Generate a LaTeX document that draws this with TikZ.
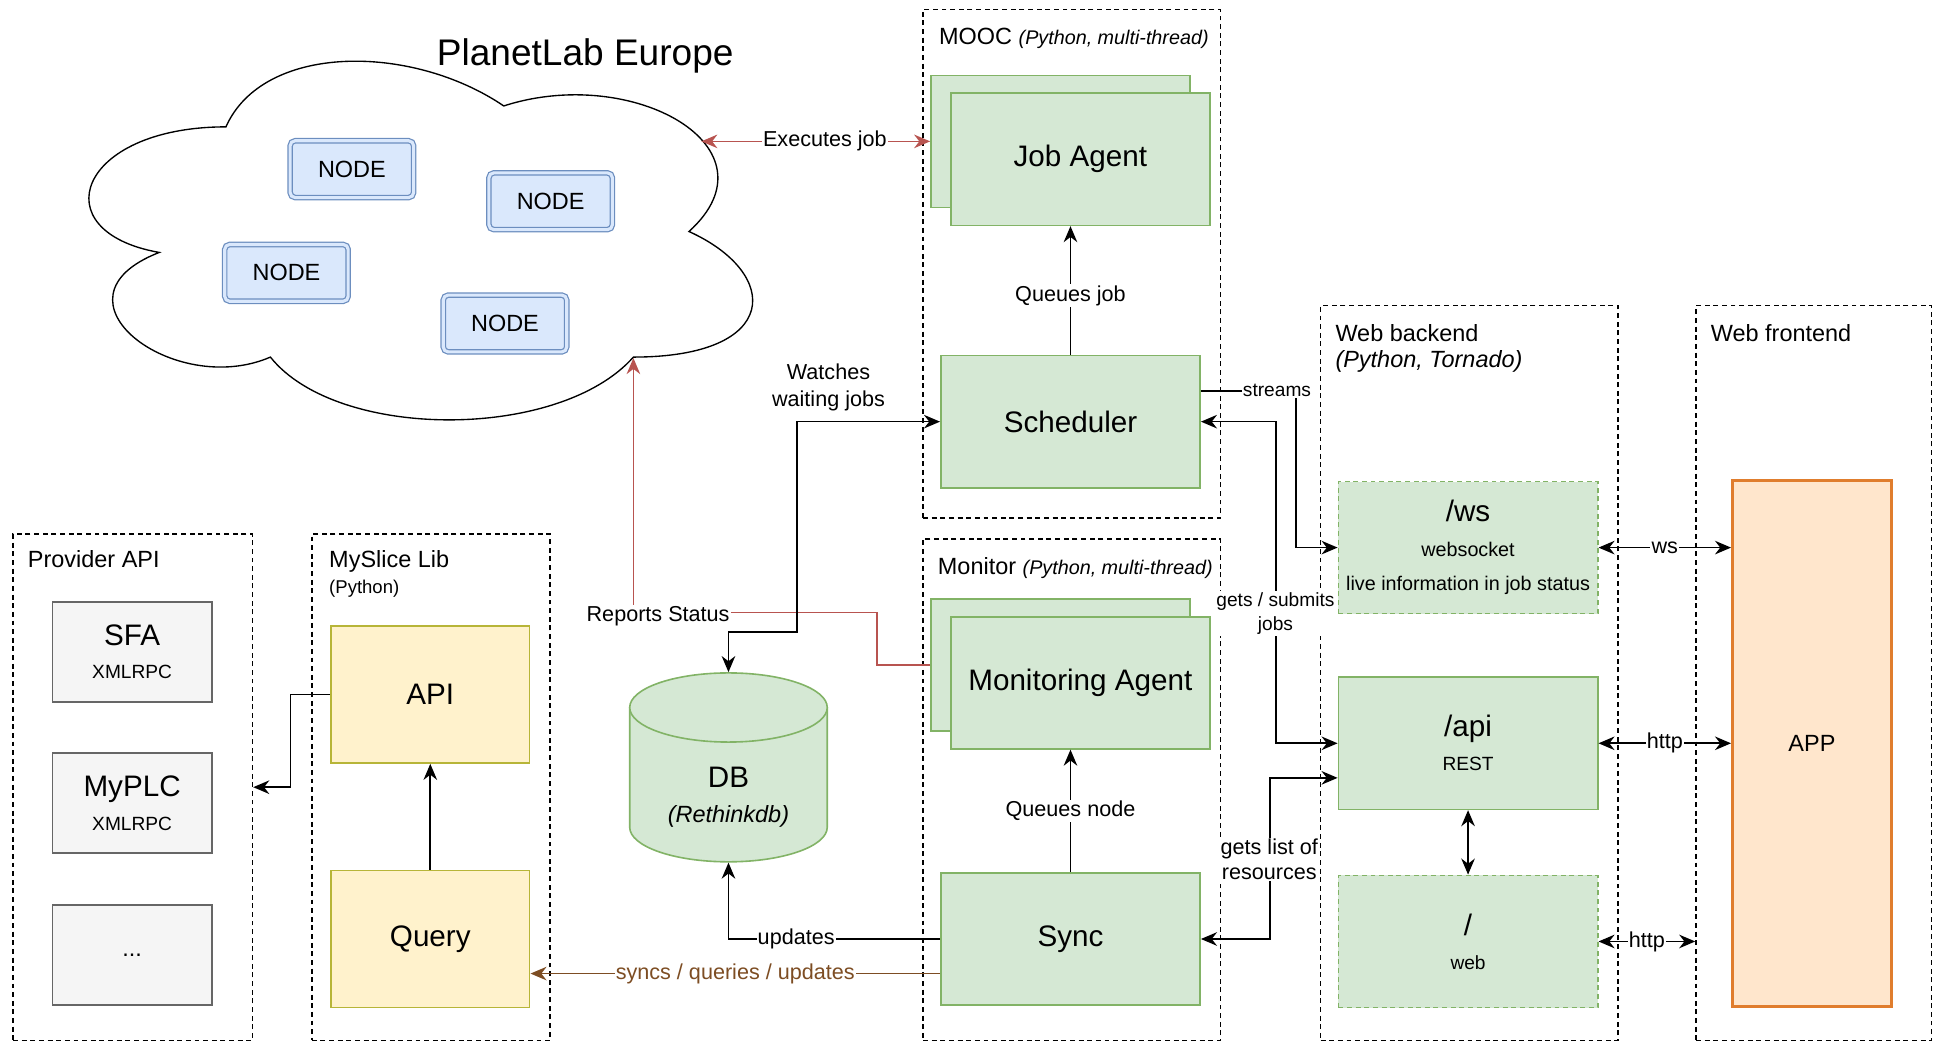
\documentclass[tikz,border=0pt]{standalone}
\usepackage{fontspec}
\setmainfont{Liberation Sans}
\usepackage{xcolor}
\usepackage{tikz}
\usetikzlibrary{arrows.meta}
\definecolor{box_green}{RGB}{213,232,212}
\definecolor{line_green}{RGB}{130,179,102}
\definecolor{box_yellow}{RGB}{255,242,204}
\definecolor{line_yellow}{RGB}{183,181,56}
\definecolor{box_grey}{RGB}{245,245,245}
\definecolor{line_grey}{RGB}{102,102,102}
\definecolor{box_blue}{RGB}{218,232,252}
\definecolor{line_blue}{RGB}{108,142,191}
\definecolor{box_orange}{RGB}{255,230,204}
\definecolor{line_orange}{RGB}{224,125,45}
\definecolor{edge_red}{RGB}{184,84,80}
\definecolor{edge_brown}{RGB}{125,77,35}
\usetikzlibrary{positioning,calc}

\begin{document}
\begin{tikzpicture}[x=1pt, y=-1pt, line width=1.3pt, >={Stealth[length=13pt,width=11pt]},
        groupbox/.style={draw, line width=1.1pt, dash pattern=on 4pt off 3pt, anchor=north west, inner sep=0pt},
        grouptitle/.style={anchor=north west, inner sep=0pt, align=left, font=\fontsize{19}{21}\selectfont},
        greenbox/.style={draw=line_green, fill=box_green, inner sep=0pt, align=center, minimum width=210pt, minimum height=107pt, font=\fontsize{24}{28}\selectfont},
        yellowbox/.style={draw=line_yellow, fill=box_yellow, inner sep=0pt, minimum width=161pt, minimum height=111pt, font=\fontsize{24}{28}\selectfont},
        greybox/.style={draw=line_grey, fill=box_grey, inner sep=0pt, align=center, minimum width=129pt, minimum height=81pt, font=\fontsize{15.5}{27}\selectfont},
        plnode/.style={draw=line_blue, line width=1pt, double=box_blue, double distance=2.5pt, fill=box_blue, rounded corners=4pt, minimum width=100pt, minimum height=46pt, font=\fontsize{19}{22}\selectfont},
        edgelabel/.style={fill=white, inner sep=1pt, align=center, font=\fontsize{17.5}{20}\selectfont},
        smalllabel/.style={fill=white, inner sep=1pt, align=center, font=\fontsize{15.5}{20}\selectfont}]
        \useasboundingbox (0,0) rectangle (1568,844);
        % Groups
        \node[groupbox, minimum width=194pt, minimum height=410pt] (provider) at (10,432) {};
        \node[groupbox, minimum width=193pt, minimum height=410pt] (myslice) at (252,432) {};
        \node[groupbox, minimum width=241pt, minimum height=412pt] (mooc) at (747,7) {};
        \node[groupbox, minimum width=241pt, minimum height=406pt] (monitor) at (747,436) {};
        \node[groupbox, minimum width=241pt, minimum height=595pt] (backend) at (1069,247) {};
        \node[groupbox, minimum width=191pt, minimum height=595pt] (frontend) at (1373,247) {};
        \node[grouptitle] (providertitle) at (22,445) {Provider API};
        \node[grouptitle] (myslicetitle) at (266,445) {MySlice Lib\\{\fontsize{15}{18}\selectfont (Python)}};
        \node[grouptitle] (mooctitle) at (760,22) {MOOC {\itshape\fontsize{16}{18}\selectfont (Python, multi-thread)}};
        \node[grouptitle] (monitortitle) at (759,451) {Monitor {\itshape\fontsize{16}{18}\selectfont (Python, multi-thread)}};
        \node[grouptitle] (backendtitle) at (1081,262) {Web backend\\\textit{(Python, Tornado)}};
        \node[grouptitle] (frontendtitle) at (1385,262) {Web frontend};
        % Cloud
        \draw[line width=1.1pt] (183,102.75) .. controls (63,102.75) and (33,187.5) .. (129,204.45)
            .. controls (33,241.74) and (141,323.1) .. (219,289.2)
            .. controls (273,357) and (453,357) .. (513,289.2)
            .. controls (633,289.2) and (633,221.4) .. (558,187.5)
            .. controls (633,119.7) and (513,51.9) .. (408,85.8)
            .. controls (333,34.95) and (213,34.95) .. (183,102.75) -- cycle;
        \node[font=\fontsize{30}{34}\selectfont] (planetlab) at (474,45) {PlanetLab Europe};
        \coordinate (cloudexec) at (568,114.5);
        \coordinate (cloudreport) at (513,290);
        \node[plnode] (pl1) at (285,137) {NODE};
        \node[plnode] (pl2) at (446,163) {NODE};
        \node[plnode] (pl3) at (232,221) {NODE};
        \node[plnode] (pl4) at (409,262) {NODE};
        % Provider API
        \node[greybox] (sfa) at (107,528) {{\fontsize{24}{27}\selectfont SFA}\\XMLRPC};
        \node[greybox] (myplc) at (107,650.5) {{\fontsize{24}{27}\selectfont MyPLC}\\XMLRPC};
        \node[greybox, font=\fontsize{19}{22}\selectfont] (otherprov) at (107,773.5) {...};
        % MySlice Lib
        \node[yellowbox] (api) at (348.5,562.5) {API};
        \node[yellowbox] (query) at (348.5,760.5) {Query};
        % MOOC and Monitor
        \node[greenbox] (jobback) at (859,114.5) {};
        \node[greenbox] (jobagent) at (875,129) {Job Agent};
        \node[greenbox] (sched) at (867,341.5) {Scheduler};
        \node[greenbox] (monback) at (859,538.5) {};
        \node[greenbox] (monagent) at (875,553) {Monitoring Agent};
        \node[greenbox] (sync) at (867,760.5) {Sync};
        % DB
        \fill[box_green] (510,573) -- (510,670) arc[start angle=180, end angle=0, x radius=80, y radius=28] -- (670,573) -- cycle;
        \draw[line_green] (510,573) -- (510,670) arc[start angle=180, end angle=0, x radius=80, y radius=28] -- (670,573);
        \filldraw[fill=box_green, draw=line_green] (590,573) ellipse[x radius=80, y radius=28];
        \node[inner sep=0pt, minimum width=160pt, minimum height=153pt] (db) at (590,621.5) {};
        \node[align=center, font=\fontsize{19}{28.5}\selectfont] (dbtext) at (590,646) {{\fontsize{24}{28}\selectfont DB}\\\textit{(Rethinkdb)}};
        % Web backend and frontend
        \node[greenbox, dash pattern=on 4pt off 3pt, font=\fontsize{16}{28}\selectfont] (ws) at (1189,443.5) {{\fontsize{24}{28}\selectfont /ws}\\websocket\\live information in job status};
        \node[greenbox, font=\fontsize{15.5}{27.5}\selectfont] (restapi) at (1189,602) {{\fontsize{24}{28}\selectfont /api}\\REST};
        \node[greenbox, dash pattern=on 4pt off 3pt, font=\fontsize{15.5}{27.5}\selectfont] (web) at (1189,762.5) {{\fontsize{24}{28}\selectfont /}\\web};
        \node[draw=line_orange, fill=box_orange, line width=2pt, minimum width=129pt, minimum height=426pt, font=\fontsize{19}{22}\selectfont] (app) at (1467.5,602) {APP};
        % Connectors
        \coordinate (reportcorner) at (513,496);
        \coordinate (watchcorner) at (590,512);
        \draw[<->, edge_red] (cloudexec) -- (jobback.west) node[edgelabel, text=black, pos=0.54] {Executes job};
        \draw[->] (sched.north) -- (sched.north |- jobagent.south) node[edgelabel, pos=0.46] {Queues job};
        \draw[->] (sync.north) -- (sync.north |- monagent.south) node[edgelabel, pos=0.5] {Queues node};
        \draw[->] (query.north) -- (api.south);
        \draw[->] (api.west) -- ++(-32,0) |- (provider.east);
        \draw[->, edge_red] (monback.west) -- ++(-43,0) |- (reportcorner) -- (cloudreport);
        \node[edgelabel] (reportlabel) at (533,499) {Reports Status};
        \draw[<->] (sched.west) -- ++(-116,0) |- (watchcorner) -- (db.north);
        \node[edgelabel, fill=none, font=\fontsize{17.5}{22}\selectfont] (watchlabel) at (671,314) {Watches\\waiting jobs};
        \draw[->] (sync.west) -| (db.south) node[edgelabel, pos=0.34] {updates};
        \draw[->, edge_brown] ($(sync.west)+(0,28)$) -- ($(query.east)+(0,28)$) node[edgelabel, midway, text=edge_brown] {syncs / queries / updates};
        \draw[->] ($(sched.east)+(0,-25)$) -- node[smalllabel, pos=0.8] {streams} ++(77,0) |- (ws.west);
        \draw[<->] (sched.east) -- ++(61,0) |- (restapi.west);
        \node[smalllabel] (submitlabel) at (1033,497) {gets / submits\\jobs};
        \draw[<->] (sync.east) -- ++(56,0) |- ($(restapi.west)+(0,28)$);
        \node[edgelabel] (resourcelabel) at (1028,696) {gets list of\\resources};
        \draw[<->] (ws.east) -- (ws.east -| app.west) node[edgelabel, midway] {ws};
        \draw[<->] (restapi.east) -- (app.west) node[edgelabel, midway] {http};
        \draw[<->] (web.east) -- (web.east -| frontend.west) node[edgelabel, midway] {http};
        \draw[<->] (restapi.south) -- (web.north);
\end{tikzpicture}
\end{document}
